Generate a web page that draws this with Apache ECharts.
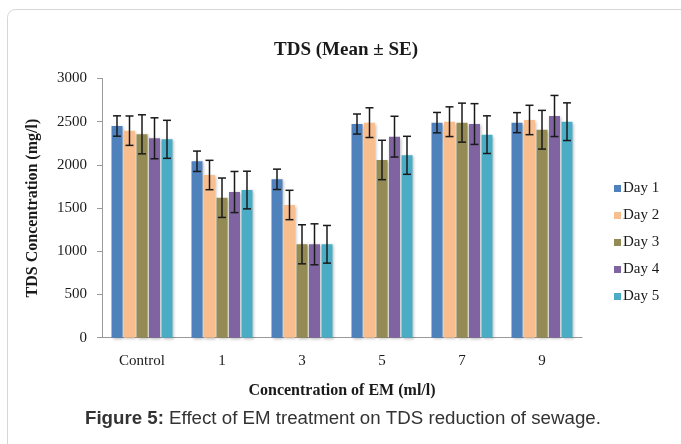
<!DOCTYPE html>
<html><head><meta charset="utf-8">
<script src="https://cdn.jsdelivr.net/npm/echarts@6/dist/echarts.min.js"></script>
<style>html,body{margin:0;padding:0;background:#fff}#c{width:681px;height:444px}</style>
</head><body><div id="c"></div>
<script>
const categories = ['Control', '1', '3', '5', '7', '9'];
const seriesNames = ['Day 1', 'Day 2', 'Day 3', 'Day 4', 'Day 5'];
const day1 = [2450, 2042, 1833, 2473, 2489, 2489];
const day2 = [2396, 1883, 1536, 2489, 2500, 2520];
const day3 = [2354, 1620, 1081, 2057, 2489, 2407];
const day4 = [2308, 1686, 1081, 2327, 2473, 2566];
const day5 = [2296, 1709, 1081, 2111, 2350, 2500];
const se1 = [118, 118, 118, 116, 118, 116];
const se2 = [170, 170, 170, 172, 172, 170];
const se3 = [226, 228, 226, 228, 226, 224];
const se4 = [237, 238, 237, 236, 236, 238];
const se5 = [220, 218, 218, 220, 218, 218];
const yTicks = [0, 500, 1000, 1500, 2000, 2500, 3000];

const values = [day1, day2, day3, day4, day5];
const errors = [se1, se2, se3, se4, se5];
const colors = ['#4F81BD', '#F9BE8D', '#948A54', '#8064A2', '#4BACC6'];
const BAR_W = 11, GAP_PX = 1.5;
const serif = '"Liberation Serif", "DejaVu Serif", serif';

const chart = echarts.init(document.getElementById('c'));
const series = [];
values.forEach((vals, i) => {
  series.push({
    name: seriesNames[i], type: 'bar', data: vals, barWidth: BAR_W,
    barGap: (GAP_PX / BAR_W * 100) + '%',
    itemStyle: { color: colors[i], shadowBlur: 3, shadowColor: 'rgba(0,0,0,0.28)', shadowOffsetX: 1, shadowOffsetY: 1 },
    emphasis: { disabled: true }
  });
});
values.forEach((vals, i) => {
  series.push({
    type: 'custom', z: 10, silent: true,
    data: vals.map((v, k) => [k, v, errors[i][k]]),
    renderItem: function (params, api) {
      const k = api.value(0), v = api.value(1), e = api.value(2);
      const off = (i - 2) * (BAR_W + GAP_PX);
      const top = api.coord([k, v + e]);
      const bot = api.coord([k, v - e]);
      const x = top[0] + off;
      const cap = 4;
      const st = { stroke: '#1a1a1a', lineWidth: 1.5 };
      return { type: 'group', children: [
        { type: 'line', shape: { x1: x, y1: top[1], x2: x, y2: bot[1] }, style: st },
        { type: 'line', shape: { x1: x - cap, y1: top[1], x2: x + cap, y2: top[1] }, style: st },
        { type: 'line', shape: { x1: x - cap, y1: bot[1], x2: x + cap, y2: bot[1] }, style: st }
      ]};
    }
  });
});

chart.setOption({
  animation: false,
  title: { text: 'TDS (Mean ± SE)', left: 341, top: 36, textAlign: 'center',
    textStyle: { fontFamily: serif, fontSize: 19, fontWeight: 'bold', color: '#1a1a1a' } },
  legend: {
    orient: 'vertical', left: 609, top: 176, itemWidth: 7, itemHeight: 7, itemGap: 12,
    icon: 'rect', data: seriesNames,
    textStyle: { fontFamily: serif, fontSize: 15, color: '#1a1a1a', padding: [0, 0, 0, -3] }
  },
  grid: { left: 102, right: 99, top: 78.5, bottom: 106.3 },
  xAxis: {
    type: 'category', data: categories,
    axisLine: { lineStyle: { color: '#9a9a9a' } },
    axisTick: { lineStyle: { color: '#9a9a9a' }, length: 5 },
    axisLabel: { fontFamily: serif, fontSize: 15, color: '#1a1a1a', margin: 16 },
    name: 'Concentration of EM (ml/l)', nameLocation: 'middle', nameGap: 45,
    nameTextStyle: { fontFamily: serif, fontSize: 16, fontWeight: 'bold', color: '#1a1a1a' }
  },
  yAxis: {
    type: 'value', min: yTicks[0], max: yTicks[yTicks.length - 1], interval: 500,
    axisLine: { show: true, lineStyle: { color: '#9a9a9a' } },
    axisTick: { show: true, lineStyle: { color: '#9a9a9a' }, length: 5 },
    splitLine: { show: false },
    axisLabel: { fontFamily: serif, fontSize: 15, color: '#1a1a1a', margin: 15, formatter: v => String(v) },
    name: 'TDS Concentration (mg/l)', nameLocation: 'middle', nameGap: 61, nameRotate: 90,
    nameTextStyle: { fontFamily: serif, fontSize: 16, fontWeight: 'bold', color: '#1a1a1a' }
  },
  graphic: [
    { type: 'rect', z: -1, shape: { x: 7.5, y: 9.5, width: 720, height: 480, r: 8 },
      style: { fill: 'none', stroke: '#d6d6d6', lineWidth: 1 } },
    { type: 'text', left: 85, top: 409, style: {
      text: '{b|Figure 5:} Effect of EM treatment on TDS reduction of sewage.',
      font: '18.7px "Liberation Sans", Arial, sans-serif', fill: '#333',
      rich: { b: { fontWeight: 'bold', fontSize: 18.7, fontFamily: '"Liberation Sans", Arial, sans-serif', fill: '#333' } }
    } }
  ],
  series: series
});
</script></body></html>
